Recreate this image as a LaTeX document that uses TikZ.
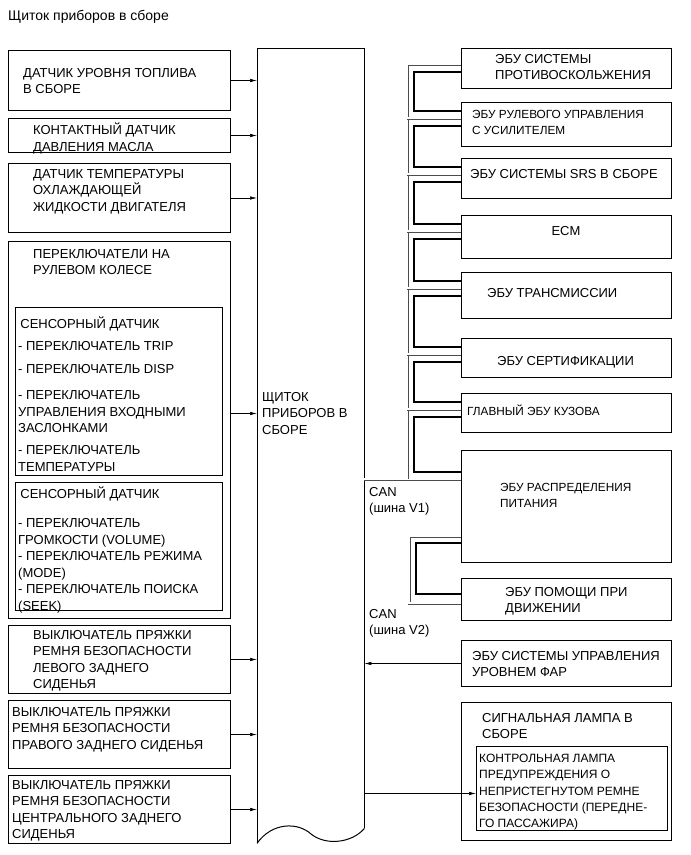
\documentclass[tikz,border=0pt]{standalone}
\usepackage{fontspec}
\setmainfont{Liberation Sans}
\usetikzlibrary{arrows.meta, positioning, calc}

\begin{document}
\begin{tikzpicture}[x=1pt, y=-1pt,
  font=\fontsize{13}{16.5}\selectfont,
  box/.style={draw, line width=1pt, anchor=north west, inner sep=0pt},
  txt/.style={anchor=north west, align=left, inner sep=0pt, execute at begin node=\strut},
  narrow/.style={font=\fontsize{11.8}{16.5}\selectfont},
  arr/.style={-{Latex[length=7pt, width=3.5pt]}, line width=0.6pt},
  canw/.style={draw=black!70, line width=0.6pt, double=white, double distance=1.8pt},
  canb/.style={line width=1.1pt}]
  \useasboundingbox (0,0) rectangle (691,855);

  \node[txt, font=\fontsize{14}{17}\selectfont] (title) at (8,8) {Щиток приборов в сборе};

  % left side
  \node[box, minimum width=222, minimum height=60] (fuel) at (8,50) {};
  \node[txt] (fueltxt) at (23,68) {ДАТЧИК УРОВНЯ ТОПЛИВА\\В СБОРЕ};
  \node[box, minimum width=222, minimum height=34] (oil) at (8,118) {};
  \node[txt] (oiltxt) at (33,123) {КОНТАКТНЫЙ ДАТЧИК\\ДАВЛЕНИЯ МАСЛА};
  \node[box, minimum width=222, minimum height=69] (temp) at (8,163) {};
  \node[txt] (temptxt) at (33,169) {ДАТЧИК ТЕМПЕРАТУРЫ\\ОХЛАЖДАЮЩЕЙ\\ЖИДКОСТИ ДВИГАТЕЛЯ};
  \node[box, minimum width=222, minimum height=377] (steer) at (8,241) {};
  \node[txt] (steertxt) at (33,249) {ПЕРЕКЛЮЧАТЕЛИ НА\\РУЛЕВОМ КОЛЕСЕ};
  \node[box, minimum width=207, minimum height=168] (touchA) at (15,307) {};
  \node[txt] (touchAtxt) at (18,317) {\,СЕНСОРНЫЙ ДАТЧИК\\[5.5pt]- ПЕРЕКЛЮЧАТЕЛЬ TRIP\\[6.5pt]- ПЕРЕКЛЮЧАТЕЛЬ DISP\\[9.5pt]- ПЕРЕКЛЮЧАТЕЛЬ\\УПРАВЛЕНИЯ ВХОДНЫМИ\\ЗАСЛОНКАМИ\\[5.5pt]- ПЕРЕКЛЮЧАТЕЛЬ\\ТЕМПЕРАТУРЫ};
  \node[box, minimum width=207, minimum height=128] (touchB) at (15,482) {};
  \node[txt] (touchBtxt) at (18,487) {\,СЕНСОРНЫЙ ДАТЧИК\\[12.5pt]- ПЕРЕКЛЮЧАТЕЛЬ\\ГРОМКОСТИ (VOLUME)\\- ПЕРЕКЛЮЧАТЕЛЬ РЕЖИМА\\(MODE)\\- ПЕРЕКЛЮЧАТЕЛЬ ПОИСКА\\(SEEK)};
  \node[box, minimum width=222, minimum height=68] (beltL) at (8,625) {};
  \node[txt] (beltLtxt) at (33,630) {ВЫКЛЮЧАТЕЛЬ ПРЯЖКИ\\РЕМНЯ БЕЗОПАСНОСТИ\\ЛЕВОГО ЗАДНЕГО\\СИДЕНЬЯ};
  \node[box, minimum width=222, minimum height=68] (beltR) at (8,700) {};
  \node[txt] (beltRtxt) at (12,707) {ВЫКЛЮЧАТЕЛЬ ПРЯЖКИ\\РЕМНЯ БЕЗОПАСНОСТИ\\ПРАВОГО ЗАДНЕГО СИДЕНЬЯ};
  \node[box, minimum width=222, minimum height=68] (beltC) at (8,775) {};
  \node[txt] (beltCtxt) at (12,780) {ВЫКЛЮЧАТЕЛЬ ПРЯЖКИ\\РЕМНЯ БЕЗОПАСНОСТИ\\ЦЕНТРАЛЬНОГО ЗАДНЕГО\\СИДЕНЬЯ};

  % combination meter
  \node[anchor=north west, inner sep=0pt, minimum width=107, minimum height=795] (main) at (257,48) {};
  \draw[line width=1pt] (main.south west) -- (main.north west) -- (main.north east) -- ([yshift=15pt]main.south east);
  \draw[line width=1pt] (main.south west) .. controls (272,822) and (298,822) .. (311,834) .. controls (326,846) and (352,843) .. ([yshift=15pt]main.south east);
  \node[txt] (maintxt) at (262,392) {ЩИТОК\\ПРИБОРОВ В\\СБОРЕ};

  % right side
  \node[box, minimum width=210, minimum height=40] (e1) at (461,48) {};
  \node[txt] (e1txt) at (495,54) {ЭБУ СИСТЕМЫ\\ПРОТИВОСКОЛЬЖЕНИЯ};
  \node[box, minimum width=210, minimum height=44] (e2) at (461,102) {};
  \node[txt, narrow] (e2txt) at (472,110) {ЭБУ РУЛЕВОГО УПРАВЛЕНИЯ\\С УСИЛИТЕЛЕМ};
  \node[box, minimum width=210, minimum height=40] (e3) at (461,158) {};
  \node[txt] (e3txt) at (470,167) {ЭБУ СИСТЕМЫ SRS В СБОРЕ};
  \node[box, minimum width=210, minimum height=43] (e4) at (461,215) {};
  \node[txt, anchor=north] (e4txt) at (566,224) {ECM};
  \node[box, minimum width=210, minimum height=46] (e5) at (461,272) {};
  \node[txt] (e5txt) at (487,286) {ЭБУ ТРАНСМИССИИ};
  \node[box, minimum width=210, minimum height=39] (e6) at (461,338) {};
  \node[txt] (e6txt) at (497,354) {ЭБУ СЕРТИФИКАЦИИ};
  \node[box, minimum width=210, minimum height=39] (e7) at (461,393) {};
  \node[txt, narrow] (e7txt) at (467,404) {ГЛАВНЫЙ ЭБУ КУЗОВА};
  \node[box, minimum width=210, minimum height=112] (e8) at (461,450) {};
  \node[txt, narrow] (e8txt) at (500,483) {ЭБУ РАСПРЕДЕЛЕНИЯ\\ПИТАНИЯ};
  \node[box, minimum width=210, minimum height=42] (e9) at (461,578) {};
  \node[txt] (e9txt) at (505,587) {ЭБУ ПОМОЩИ ПРИ\\ДВИЖЕНИИ};
  \node[box, minimum width=210, minimum height=46] (e10) at (461,640) {};
  \node[txt] (e10txt) at (472,651) {ЭБУ СИСТЕМЫ УПРАВЛЕНИЯ\\УРОВНЕМ ФАР};
  \node[box, minimum width=210, minimum height=138] (lampA) at (461,702) {};
  \node[txt] (lampAtxt) at (482,713) {СИГНАЛЬНАЯ ЛАМПА В\\СБОРЕ};
  \node[box, minimum width=191, minimum height=84] (lampB) at (476,746) {};
  \node[txt, font=\fontsize{12}{16.25}\selectfont] (lampBtxt) at (479,754) {КОНТРОЛЬНАЯ ЛАМПА\\ПРЕДУПРЕЖДЕНИЯ О\\НЕПРИСТЕГНУТОМ РЕМНЕ\\БЕЗОПАСНОСТИ (ПЕРЕДНЕ-\\ГО ПАССАЖИРА)};

  \node[txt] (can1) at (369,487) {CAN\\(шина V1)};
  \node[txt] (can2) at (369,609) {CAN\\(шина V2)};

  % inputs
  \draw[arr] (fuel.east) -- (fuel.east -| main.west);
  \draw[arr] (oil.east) -- (oil.east -| main.west);
  \draw[arr] (temp.east) -- (temp.east -| main.west);
  \draw[arr] ([yshift=16.5pt]steer.east) -- ([yshift=16.5pt]steer.east -| main.west);
  \draw[arr] (beltL.east) -- (beltL.east -| main.west);
  \draw[arr] (beltR.east) -- (beltR.east -| main.west);
  \draw[arr] (beltC.east) -- (beltC.east -| main.west);
  \draw[arr] (e10.west) -- (e10.west -| main.east);
  \draw[arr] ([yshift=-5pt]lampB.west -| main.east) -- ([yshift=-5pt]lampB.west);

  % CAN V1
  \coordinate (v1bus) at (364,479);
  \draw[canb] (e7.west |- 0,417) -- (414,417) |- ([yshift=-22pt]e8.north west);
  \foreach \a/\b in {e1/e2, e2/e3, e3/e4, e4/e5, e5/e6, e6/e7}
    \draw[canb] ([yshift=-24pt]\a.north west) -- ++(-47,0) |- ([yshift=-9pt]\b.north west);
  \draw[canw] (v1bus) -- (v1bus -| e8.west);
  \draw[canw] (v1bus -| 407,0) |- ([yshift=-16pt]e1.north west);
  \foreach \e in {e2, e3, e4, e5, e6, e7}
    \draw[canw] ([yshift=-16pt]\e.north west) -- ++(-54,0);

  % CAN V2
  \draw[canw] ([yshift=-86pt]e8.north west) -- ++(-52,0) |- ([yshift=-25pt]e9.north west);
  \draw[canb] ([yshift=-93pt]e8.north west) -- ++(-45,0) |- ([yshift=-16pt]e9.north west);
\end{tikzpicture}
\end{document}
